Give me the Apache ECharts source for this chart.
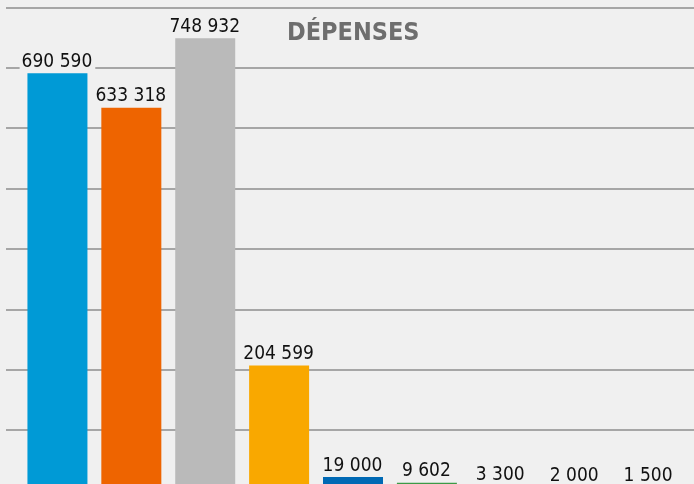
<!DOCTYPE html>
<html>
<head>
<meta charset="utf-8">
<script src="https://cdn.jsdelivr.net/npm/echarts@6/dist/echarts.min.js"></script>
<style>
  html, body { margin: 0; padding: 0; background: #f0f0f0; }
  #main { width: 694px; height: 484px; }
</style>
</head>
<body>
<div id="main"></div>
<script>
// données
const categories = ['Poste 1', 'Poste 2', 'Poste 3', 'Poste 4', 'Poste 5', 'Poste 6', 'Poste 7', 'Poste 8', 'Poste 9']
const depenses = [690590, 633318, 748932, 204599, 19000, 9602, 3300, 2000, 1500]
const barColors = ['#009ad6', '#ee6400', '#bababa', '#f9a800', '#0069b4', '#3c9a47', '#8b1a4f', '#5b2c83', '#e2007a']
// quadrillage visible : 100 000 à 800 000
const gridTicks = { min: 100000, max: 800000, interval: 100000 }
// l'axe zéro tombe sous le bas de l'image : le bas visible vaut environ 7 500
const barAxis = { min: 7500, max: 800000 }

const FONT = '"DejaVu Sans Condensed", "Liberation Sans Narrow", sans-serif'

// 690590 -> "690 590"
function fmt(v) {
  return String(v).replace(/\B(?=(\d{3})+(?!\d))/g, ' ')
}

let myChart = echarts.init(document.getElementById('main'))
let option = {
  backgroundColor: '#f0f0f0',
  animation: false,
  title: {
    text: 'DÉPENSES',
    left: 282,
    top: 16,
    textStyle: {
      fontFamily: FONT,
      fontWeight: 'bold',
      fontSize: 25,
      color: '#6e6e6e'
    }
  },
  grid: [
    // barres
    { left: 20.5, width: 665, top: 7.5, bottom: 0 },
    // lignes de quadrillage, pleine largeur
    { left: 6, right: 0, top: 7.5, height: 422.5 }
  ],
  xAxis: [
    { type: 'category', gridIndex: 0, data: categories, show: false },
    { type: 'category', gridIndex: 1, data: categories, show: false }
  ],
  yAxis: [
    {
      type: 'value', gridIndex: 0,
      min: barAxis.min, max: barAxis.max,
      axisLine: { show: false }, axisTick: { show: false }, axisLabel: { show: false },
      splitLine: { show: false }
    },
    {
      type: 'value', gridIndex: 1,
      min: gridTicks.min, max: gridTicks.max, interval: gridTicks.interval,
      axisLine: { show: false }, axisTick: { show: false }, axisLabel: { show: false },
      splitLine: { show: true, lineStyle: { color: '#a6a6a6', width: 2 } }
    }
  ],
  series: [
    {
      type: 'bar',
      xAxisIndex: 0,
      yAxisIndex: 0,
      clip: false,
      barWidth: 60,
      data: depenses.map((v, i) => ({ value: v, itemStyle: { color: barColors[i] } })),
      label: {
        show: true,
        position: 'top',
        distance: 2,
        formatter: p => fmt(p.value),
        fontFamily: FONT,
        fontSize: 19,
        color: '#111',
        backgroundColor: '#f0f0f0',
        padding: [0, 3, 0, 2]
      }
    }
  ]
}
myChart.setOption(option)
</script>
</body>
</html>
